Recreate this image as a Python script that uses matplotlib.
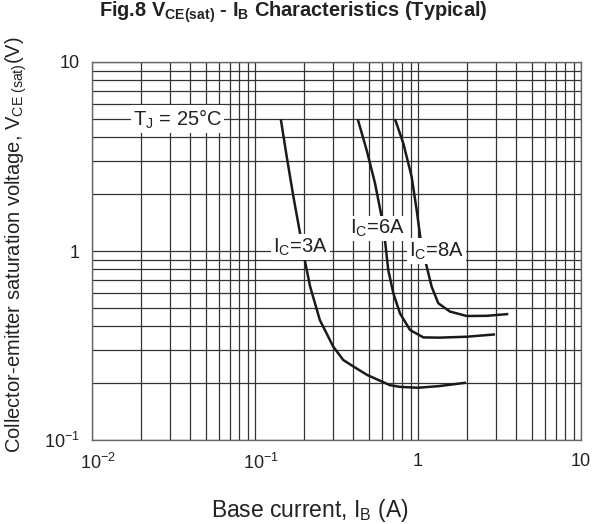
import matplotlib
matplotlib.use("Agg")
import matplotlib.pyplot as plt
from matplotlib.ticker import LogLocator, FixedLocator, FixedFormatter, NullFormatter
from matplotlib.transforms import ScaledTranslation

plt.rcParams["font.family"] = ["Liberation Sans", "DejaVu Sans"]
plt.rcParams["mathtext.fontset"] = "custom"
plt.rcParams["mathtext.rm"] = "Liberation Sans"
plt.rcParams["mathtext.it"] = "Liberation Sans:italic"
plt.rcParams["mathtext.bf"] = "Liberation Sans:bold"

# Base current I_B (A) and saturation voltage V_CE(sat) (V) for each collector current
ib_3a = [0.144, 0.1565, 0.172, 0.189, 0.200, 0.218, 0.250, 0.302, 0.348, 0.401, 0.487,
         0.673, 0.776, 1.0, 1.36, 1.97]
vce_3a = [4.98, 3.16, 1.94, 1.24, 0.933, 0.647, 0.431, 0.312, 0.265, 0.245, 0.221,
          0.195, 0.191, 0.189, 0.193, 0.201]

ib_6a = [0.427, 0.484, 0.545, 0.598, 0.627, 0.657, 0.706, 0.776, 0.894, 1.078, 1.36, 2.0, 2.97]
vce_6a = [4.98, 3.42, 2.28, 1.52, 1.14, 0.793, 0.597, 0.467, 0.382, 0.349, 0.348, 0.352, 0.362]

ib_8a = [0.723, 0.813, 0.914, 0.981, 1.039, 1.131, 1.213, 1.332, 1.571, 1.99, 2.64, 3.58]
vce_8a = [4.98, 3.71, 2.47, 1.65, 1.14, 0.826, 0.647, 0.529, 0.478, 0.453, 0.454, 0.464]

x_ticks = [0.01, 0.1, 1, 10]
x_tick_labels = [r"$\mathregular{10^{-2}}$", r"$\mathregular{10^{-1}}$", "1", "10"]
y_ticks = [0.1, 1, 10]
y_tick_labels = [r"$\mathregular{10^{-1}}$", "1", "10"]

fig = plt.figure(figsize=(5.93, 5.24), dpi=100)
ax = fig.add_axes([92 / 593, 1 - 440 / 524, 489 / 593, 378 / 524])
ax.set_xscale("log")
ax.set_yscale("log")
ax.set_xlim(0.01, 10)
ax.set_ylim(0.1, 10)

grid_kw = dict(color="#333333", linewidth=0.9)
ax.xaxis.set_minor_locator(LogLocator(base=10, subs=range(2, 10)))
ax.yaxis.set_minor_locator(LogLocator(base=10, subs=range(2, 10)))
ax.xaxis.set_minor_formatter(NullFormatter())
ax.yaxis.set_minor_formatter(NullFormatter())
ax.grid(True, which="both", **grid_kw)
ax.set_axisbelow(True)

ax.xaxis.set_major_locator(FixedLocator(x_ticks))
ax.xaxis.set_major_formatter(FixedFormatter(x_tick_labels))
ax.yaxis.set_major_locator(FixedLocator(y_ticks))
ax.yaxis.set_major_formatter(FixedFormatter(y_tick_labels))
ax.tick_params(which="both", length=0, labelsize=13, colors="#222222")
ax.tick_params(axis="x", pad=9)
ax.tick_params(axis="y", pad=9)

# keep the mantissa of the power-of-ten labels centred on its tick
for lab, txt in zip(ax.get_xticklabels(), x_tick_labels):
    if "^" in txt:
        lab.set_transform(lab.get_transform() + ScaledTranslation(6 / 100, 0, fig.dpi_scale_trans))

for sp in ax.spines.values():
    sp.set_color("#666666")
    sp.set_linewidth(1.0)

curve_kw = dict(color="#1a1a1a", linewidth=1.8, solid_capstyle="butt", zorder=3)
ax.plot(ib_3a, vce_3a, **curve_kw)
ax.plot(ib_6a, vce_6a, **curve_kw)
ax.plot(ib_8a, vce_8a, **curve_kw)

box = dict(facecolor="white", edgecolor="none", pad=1.5)
label_kw = dict(fontsize=14.5, ha="center", va="center", bbox=box, zorder=4, color="#222222")
ax.text(0.0335, 5.0, r"T$\mathregular{_J}$ = 25°C", **label_kw)
ax.text(0.191, 1.05, r"I$\mathregular{_C}$=3A", **label_kw)
ax.text(0.564, 1.31, r"I$\mathregular{_C}$=6A", **label_kw)
ax.text(1.30, 1.0, r"I$\mathregular{_C}$=8A", **label_kw)

fig.text(293.5 / 593, 1 - 12 / 524,
         r"Fig.8 V$\mathbf{_{CE(sat)}}$ - I$\mathbf{_B}$ Characteristics (Typical)",
         fontsize=14.4, fontweight="bold", ha="center", va="center", color="#222222")
fig.text(310 / 593, 1 - 510 / 524, r"Base current, I$\mathregular{_B}$ (A)", fontsize=16.5,
         ha="center", va="center", color="#222222")
fig.text(16 / 593, 1 - 245 / 524,
         r"Collector-emitter saturation voltage, V$\mathregular{_{CE\ (sat)}}$(V)",
         fontsize=14.5, rotation=90, ha="center", va="center", color="#222222")

fig.savefig("out.png", dpi=100, facecolor="white")
